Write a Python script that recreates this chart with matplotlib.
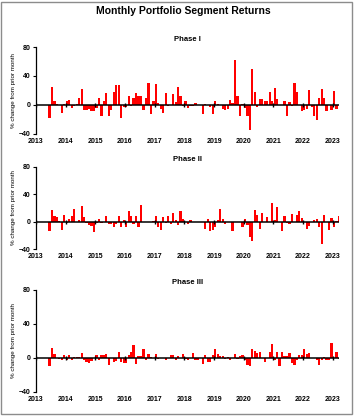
import numpy as np
import matplotlib.pyplot as plt
from matplotlib.patches import Rectangle

# --- Data: monthly % change from prior month, Jun 2013 onward ---
start_year = 2013
start_month = 6

phase1 = [-18, 25, 5, 1, 0, -11, 2, 6, 7, -4, -2, 1, 9, 22, -7, -7, -5, -8, -8, -4,
          10, -15, 5, 17, -15, -7, 18, 28, 27, -18, -3, -3, 12, -2, 9, 16, 12, 12, -7, 9,
          30, -13, 6, 29, 3, -5, -11, 16, -2, 0, 15, 4, 25, 12, -2, 5, -4, -2, -2, 3,
          0, 0, -12, 2, 0, -3, -13, 6, 2, 0, -5, -7, -5, 7, 3, 62, 12, -15, 2, -4,
          -15, -34, 49, 18, -3, 8, 8, 6, 6, 18, 6, 24, 8, 0, 0, 6, -15, 4, -2, 31,
          18, 0, -8, -7, -5, 20, -3, -15, -21, 9, 22, 9, -9, 0, -7, 19, -5]

phase2 = [-14, 17, 8, 7, 1, -12, 10, -2, 4, 9, 19, 0, 3, 23, 7, -2, -5, -6, -15, -2,
          4, -2, 0, 8, -4, -4, -8, -4, 8, -7, 2, -8, 15, 8, -3, 8, -7, 25, -1, 0,
          0, 0, 1, 8, -7, -12, 7, -2, 9, -4, 12, 2, -5, 16, 4, 0, -4, 2, 0, -1,
          0, 0, 0, -10, 4, -14, -12, -7, 3, 18, 4, -3, 0, 0, -13, 0, 0, 0, -7, 4,
          -5, -22, -28, 17, 10, -10, 12, 0, 7, 0, 27, 3, 22, 0, -14, 9, -2, -3, 11, 0,
          10, 16, 5, 0, -10, -6, 0, 2, 4, -7, -33, 10, 0, -12, 5, -8, 1, 9, -3]

phase3 = [-10, 12, 5, 0, -1, -2, 3, -2, 3, -2, 1, 1, 1, 6, -2, -5, -6, -4, 0, 3,
          -3, 3, 3, 5, -8, 0, -5, -4, 7, -5, -6, -6, 4, 7, 15, -7, 2, 2, 10, -2,
          5, 1, 0, 5, -1, 0, 0, -2, 0, 4, 4, -2, 2, 0, 5, -1, -2, 0, 6, -2,
          -2, 0, -7, 3, -5, -5, 3, 10, 5, 2, 2, -1, 1, -3, 0, 5, -1, 2, 4, -2,
          -8, -9, 11, 8, 6, 7, 0, -5, 0, 7, 16, -3, 7, -10, 7, 2, 2, 6, -6, -8,
          -3, 3, 4, 10, 5, 6, 0, 0, -3, -8, -2, 1, -3, -2, 18, 0, 7, -1]

phases = ['Phase I', 'Phase II', 'Phase III']
series = [phase1, phase2, phase3]
years = list(range(2013, 2024))

plt.rcParams['font.family'] = ['Liberation Sans', 'DejaVu Sans']

fig = plt.figure(figsize=(3.55, 4.16), dpi=100)

# axes boxes [left, bottom, width, height] in figure fractions
boxes = [[0.101, 0.678, 0.854, 0.209],
         [0.101, 0.401, 0.854, 0.198],
         [0.101, 0.058, 0.854, 0.245]]

for name, vals, box in zip(phases, series, boxes):
    ax = fig.add_axes(box)
    x = start_year + (start_month - 1) / 12 + np.arange(len(vals)) / 12 + 1 / 24
    ax.bar(x, vals, width=0.075, color='#ff0000', linewidth=0)
    ax.axhline(0, color='black', linewidth=1.1, zorder=3)
    ax.plot(years, [0] * len(years), linestyle='none', marker='|',
            markersize=3, color='black', zorder=4)

    ax.set_xlim(2013, 2023.21)
    ax.set_ylim(-40, 80)
    ax.set_yticks([-40, 0, 40, 80])
    ax.set_xticks(years)
    ax.tick_params(axis='x', length=0, labelsize=5, pad=3)
    ax.tick_params(axis='y', length=2, width=0.8, labelsize=5, pad=1.5)
    for lab in ax.get_xticklabels() + ax.get_yticklabels():
        lab.set_fontweight('bold')

    for s in ['top', 'right', 'bottom']:
        ax.spines[s].set_visible(False)
    ax.spines['left'].set_linewidth(0.9)

    ax.set_title(name, fontsize=5.5, fontweight='bold', pad=4)
    ax.set_ylabel('% change from prior month', fontsize=4.5, labelpad=2)

fig.suptitle('Monthly Portfolio Segment Returns', x=0.515, y=0.985,
             fontsize=7.5, fontweight='bold')

# chart-area border
fig.patches.append(Rectangle((0.004, 0.006), 0.988, 0.99, transform=fig.transFigure,
                             fill=False, edgecolor='#8c8c8c', linewidth=1))

fig.savefig('out.png', dpi=100)
